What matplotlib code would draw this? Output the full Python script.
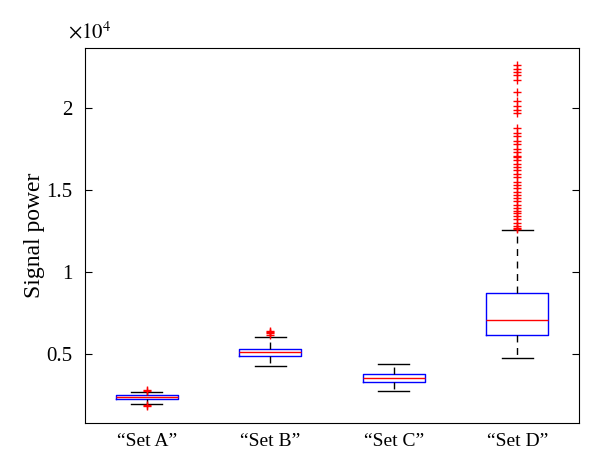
import matplotlib
matplotlib.use("Agg")
import matplotlib.pyplot as plt
from matplotlib.ticker import FuncFormatter

# box statistics (raw signal power)
labels = ["\u201cSet A\u201d", "\u201cSet B\u201d", "\u201cSet C\u201d", "\u201cSet D\u201d"]
medians = [2380, 5120, 3540, 7070]
q1s = [2260, 4880, 3290, 6160]
q3s = [2500, 5300, 3780, 8720]
whis_lo = [1950, 4270, 2740, 4760]
whis_hi = [2680, 6040, 4390, 12560]
fliers_a = [2750, 2800, 1850, 1900]
fliers_b = [6160, 6250, 6320, 6400]
fliers_c = []
fliers_d = [22600, 22400, 22200, 22000, 21700, 21000, 20400, 20100, 19900, 19700,
            18800, 18500, 18300, 18000, 17800, 17500, 17300, 17100, 17000, 16800,
            16600, 16400, 16200, 16000, 15800, 15500, 15300, 15100, 14900, 14700,
            14500, 14300, 14100, 13900, 13700, 13600, 13400, 13200, 13000, 12800,
            12700, 12600]
fliers = [fliers_a, fliers_b, fliers_c, fliers_d]

plt.rcParams["font.family"] = ["Liberation Serif", "DejaVu Serif"]
plt.rcParams["mathtext.fontset"] = "stix"

stats = []
for i in range(4):
    stats.append(dict(label=labels[i], med=medians[i], q1=q1s[i], q3=q3s[i],
                      whislo=whis_lo[i], whishi=whis_hi[i], fliers=fliers[i]))

fig = plt.figure(figsize=(6, 4.75), dpi=100)
ax = fig.add_axes([0.1417, 0.1095, 0.8233, 0.7895])

ax.bxp(stats, positions=[1, 2, 3, 4], widths=0.5,
       boxprops=dict(color="#0000ff", linewidth=1),
       medianprops=dict(color="#ff0000", linewidth=1),
       whiskerprops=dict(color="black", linestyle=(0, (5, 4)), linewidth=1),
       capprops=dict(color="black", linewidth=1),
       flierprops=dict(marker="+", markeredgecolor="#ff0000", markersize=6,
                       linestyle="none"))

ax.set_xlim(0.5, 4.5)
ax.set_ylim(790, 23660)
ax.set_yticks([5000, 10000, 15000, 20000])
ax.yaxis.set_major_formatter(FuncFormatter(lambda v, p: f"{v / 1e4:g}"))
ax.set_ylabel("Signal power", fontsize=17, labelpad=1)
ax.tick_params(axis="y", direction="in", right=True, length=5, labelsize=15, pad=9)
ax.tick_params(axis="x", length=0, labelsize=14, pad=7)
ax.text(-0.034, 1.012, r"$\times10^4$", transform=ax.transAxes, ha="left",
        va="bottom", fontsize=15)

plt.savefig("out.png", dpi=100)
